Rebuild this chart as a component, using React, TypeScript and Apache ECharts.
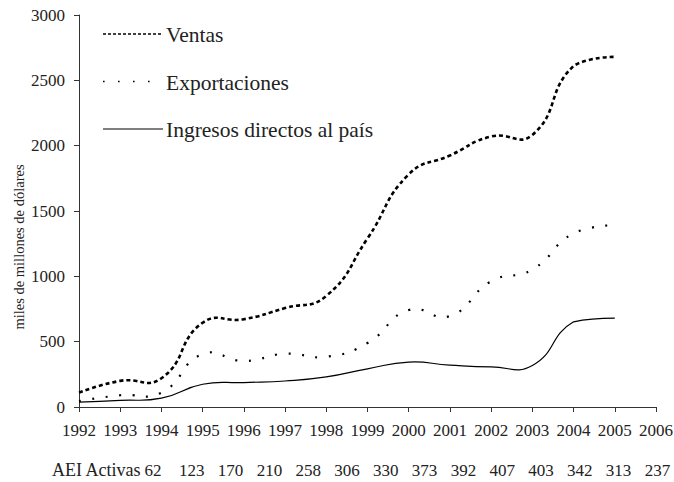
import React, { useEffect, useRef } from "react";
import * as echarts from "echarts";

const years = [1992, 1993, 1994, 1995, 1996, 1997, 1998, 1999, 2000, 2001, 2002, 2003, 2004, 2005];
const ventas = [110, 200, 220, 645, 672, 757, 850, 1290, 1780, 1925, 2070, 2082, 2610, 2680];
const exportaciones = [45, 90, 110, 405, 352, 408, 385, 490, 742, 696, 962, 1052, 1330, 1392];
const ingresos = [38, 51, 68, 174, 187, 199, 230, 292, 344, 320, 307, 318, 652, 680];
const seriesNames = ["Ventas", "Exportaciones", "Ingresos directos al país"];
const yTicks = { min: 0, max: 3000, interval: 500 };
const xTicks = { min: 1992, max: 2006, interval: 1 };
const yAxisTitle = "miles de millones de dólares";
const aeiLabel = "AEI Activas";
const aeiActivas = [62, 123, 170, 210, 258, 306, 330, 373, 392, 407, 403, 342, 313, 237];

const FONT = "Liberation Serif";
const SMOOTH = 0.5;

function clampY(cp: number[], a: number, b: number) {
  const lo = Math.min(a, b);
  const hi = Math.max(a, b);
  return [cp[0], Math.max(lo, Math.min(hi, cp[1]))];
}

function smoothPath(pts: number[][]): string {
  const n = pts.length;
  const cpPrev: number[][] = [];
  const cpNext: number[][] = [];
  for (let i = 0; i < n; i++) {
    const p = pts[i];
    if (i === 0 || i === n - 1) {
      cpPrev.push(p);
      cpNext.push(p);
      continue;
    }
    const a = pts[i - 1];
    const b = pts[i + 1];
    const vx = b[0] - a[0];
    const vy = b[1] - a[1];
    const d0 = Math.hypot(p[0] - a[0], p[1] - a[1]);
    const d1 = Math.hypot(b[0] - p[0], b[1] - p[1]);
    const r0 = d0 / (d0 + d1);
    const r1 = d1 / (d0 + d1);
    cpPrev.push([p[0] - vx * SMOOTH * r0, p[1] - vy * SMOOTH * r0]);
    cpNext.push([p[0] + vx * SMOOTH * r1, p[1] + vy * SMOOTH * r1]);
  }
  // end segments: no overshoot
  cpPrev[1] = clampY(cpPrev[1], pts[0][1], pts[1][1]);
  cpNext[n - 2] = clampY(cpNext[n - 2], pts[n - 2][1], pts[n - 1][1]);
  let d = `M${pts[0][0]},${pts[0][1]}`;
  for (let i = 0; i < n - 1; i++) {
    const c0 = cpNext[i];
    const c1 = cpPrev[i + 1];
    const q = pts[i + 1];
    d += ` C${c0[0]},${c0[1]} ${c1[0]},${c1[1]} ${q[0]},${q[1]}`;
  }
  return d;
}

export default function App() {
  const ref = useRef<HTMLDivElement>(null);
  useEffect(() => {
    if (!ref.current) return;
    const chart = echarts.init(ref.current, undefined, { renderer: "svg" });
    const pair = (arr: number[]) => years.map((y, i) => [y, arr[i]]);

    const curve = (name: string, values: number[], lineStyle: any) => ({
      name,
      type: "custom",
      coordinateSystem: "cartesian2d",
      data: pair(values),
      encode: { x: 0, y: 1 },
      renderItem: (params: any, api: any) => {
        if (params.dataIndex !== 0) return null;
        const pts = values.map((v, i) => api.coord([years[i], v]));
        return {
          type: "path",
          shape: { pathData: smoothPath(pts) },
          style: { fill: "none", stroke: "#000", ...lineStyle },
        };
      },
    });

    const legendStyles = [
      { lineWidth: 1.6, lineDash: [3, 2] },
      { lineWidth: 1.6, lineDash: [1.6, 13.4] },
      { lineWidth: 1.2 },
    ];
    const legendY = [34, 81.5, 129];
    const legendGraphics: any[] = [];
    seriesNames.forEach((name, i) => {
      legendGraphics.push({
        type: "line",
        shape: { x1: 103, y1: legendY[i], x2: 163, y2: legendY[i] },
        style: { stroke: "#000", ...legendStyles[i] },
      });
      legendGraphics.push({
        type: "text",
        x: 166,
        y: legendY[i] + 1,
        style: {
          text: name,
          fontFamily: FONT,
          fontSize: 21.5,
          fill: "#222",
          textAlign: "left",
          textVerticalAlign: "middle",
        },
      });
    });

    const aeiTexts = aeiActivas.map((v, i) => ({
      type: "text",
      x: 153 + i * 38.8,
      y: 470,
      style: {
        text: String(v),
        fontFamily: FONT,
        fontSize: 17,
        fill: "#222",
        textAlign: "center",
        textVerticalAlign: "middle",
      },
    }));

    chart.setOption({
      animation: false,
      backgroundColor: "#fff",
      grid: { left: 79, right: 18, top: 15, bottom: 75, containLabel: false, outerBoundsMode: "none" },
      xAxis: {
        type: "value",
        min: xTicks.min,
        max: xTicks.max,
        interval: xTicks.interval,
        splitLine: { show: false },
        axisLine: { lineStyle: { color: "#333", width: 1 } },
        axisTick: { show: true, length: 5, inside: false, lineStyle: { color: "#333" } },
        axisLabel: {
          margin: 15,
          fontFamily: FONT,
          fontSize: 17,
          color: "#222",
          formatter: (v: number) => String(v),
        },
      },
      yAxis: {
        type: "value",
        min: yTicks.min,
        max: yTicks.max,
        interval: yTicks.interval,
        splitLine: { show: false },
        axisLine: { show: true, lineStyle: { color: "#333", width: 1 } },
        axisTick: { show: true, length: 5, inside: false, lineStyle: { color: "#333" } },
        axisLabel: {
          margin: 14,
          fontFamily: FONT,
          fontSize: 17,
          color: "#222",
          formatter: (v: number) => String(v),
        },
      },
      series: [
        curve(seriesNames[0], ventas, { lineWidth: 2.6, lineDash: [4, 3] }),
        curve(seriesNames[1], exportaciones, { lineWidth: 2.2, lineDash: [2, 11.5] }),
        curve(seriesNames[2], ingresos, { lineWidth: 1.2 }),
      ],
      graphic: [
        ...legendGraphics,
        {
          type: "text",
          x: 19,
          y: 247,
          rotation: Math.PI / 2,
          style: {
            text: yAxisTitle,
            fontFamily: FONT,
            fontSize: 14.5,
            fill: "#222",
            textAlign: "center",
            textVerticalAlign: "middle",
          },
        },
        {
          type: "text",
          x: 52,
          y: 470,
          style: {
            text: aeiLabel,
            fontFamily: FONT,
            fontSize: 18,
            fill: "#222",
            textAlign: "left",
            textVerticalAlign: "middle",
          },
        },
        ...aeiTexts,
      ],
    });
    return () => chart.dispose();
  }, []);
  return <div ref={ref} style={{ width: 674, height: 482, position: "absolute", left: 0, top: 0 }} />;
}
